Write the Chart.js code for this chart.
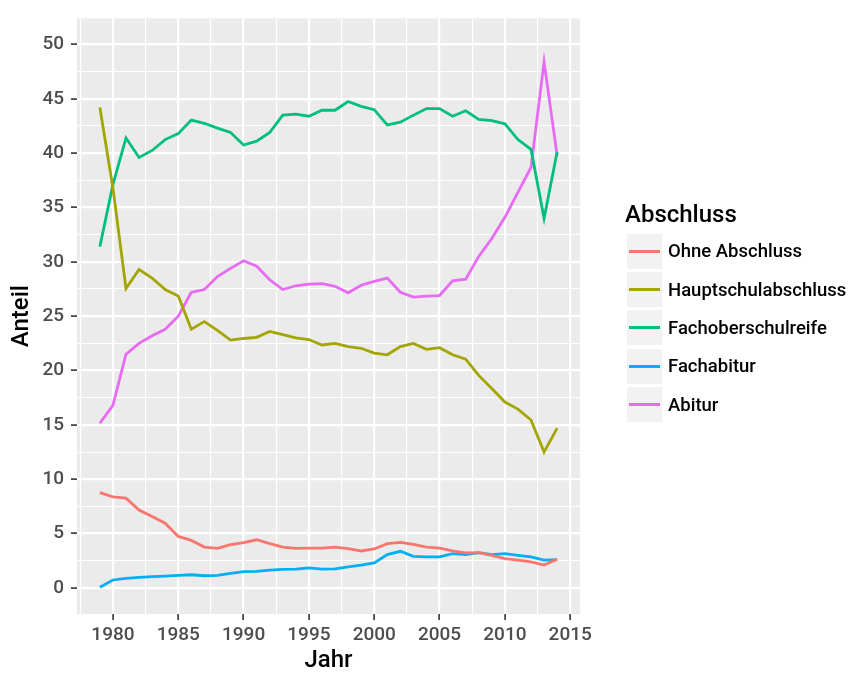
<!DOCTYPE html>
<html lang="de">
<head>
<meta charset="utf-8">
<title>Schulabschlüsse nach Jahr</title>
<script src="https://cdn.jsdelivr.net/npm/chart.js@4.4.1/dist/chart.umd.min.js"></script>
<style>
  body { margin: 0; background: #fff; font-family: Roboto, "Noto Sans", sans-serif; }
  #wrap { position: relative; width: 850px; height: 673px; }
  #legend { position: absolute; left: 625px; top: 199px; color: #000; font-weight: 500; white-space: nowrap; }
  #legend .title { font-size: 24px; line-height: 30px; margin-bottom: 3px; }
  #legend .row { display: flex; align-items: center; height: 38.4px; }
  #legend .key { width: 35px; height: 35px; background: #F2F2F2; position: relative; margin-left: 2px; }
  #legend .key span { position: absolute; left: 2px; right: 2px; top: 16px; height: 3px; }
  #legend .label { font-size: 18.5px; margin-left: 6px; }
</style>
</head>
<body>
<div id="wrap">
  <canvas id="abschlussChart" width="850" height="673"></canvas>
  <div id="legend"></div>
</div>
<script>
// Anteil der Schulabschlüsse je Jahr (in Prozent)
const years = [1979, 1980, 1981, 1982, 1983, 1984, 1985, 1986, 1987, 1988,
               1989, 1990, 1991, 1992, 1993, 1994, 1995, 1996, 1997, 1998,
               1999, 2000, 2001, 2002, 2003, 2004, 2005, 2006, 2007, 2008,
               2009, 2010, 2011, 2012, 2013, 2014];

const ohneAbschluss = [8.77, 8.38, 8.26, 7.17, 6.56, 5.95, 4.74, 4.37, 3.76, 3.64,
                       3.98, 4.16, 4.43, 4.07, 3.76, 3.64, 3.67, 3.67, 3.76, 3.61,
                       3.40, 3.58, 4.07, 4.19, 4.00, 3.76, 3.67, 3.40, 3.22, 3.25,
                       3.00, 2.70, 2.55, 2.40, 2.10, 2.64];

const hauptschulabschluss = [44.2, 36.8, 27.55, 29.3, 28.5, 27.45, 26.85, 23.8, 24.5, 23.7,
                             22.8, 22.95, 23.05, 23.6, 23.3, 23.0, 22.85, 22.35, 22.5, 22.2,
                             22.05, 21.6, 21.45, 22.2, 22.5, 21.95, 22.1, 21.45, 21.05, 19.55,
                             18.35, 17.1, 16.45, 15.45, 12.5, 14.7];

const fachoberschulreife = [31.4, 37.1, 41.4, 39.6, 40.25, 41.25, 41.8, 43.05, 42.75, 42.3,
                            41.9, 40.75, 41.1, 41.9, 43.5, 43.6, 43.4, 43.95, 43.95, 44.75,
                            44.3, 44.0, 42.6, 42.85, 43.5, 44.1, 44.1, 43.4, 43.9, 43.1,
                            43.0, 42.7, 41.25, 40.35, 34.0, 40.1];

const fachabitur = [0.06, 0.73, 0.88, 0.97, 1.03, 1.09, 1.15, 1.21, 1.12, 1.15,
                    1.34, 1.49, 1.52, 1.64, 1.70, 1.73, 1.85, 1.73, 1.76, 1.94,
                    2.10, 2.30, 3.07, 3.37, 2.91, 2.85, 2.85, 3.16, 3.07, 3.25,
                    3.07, 3.16, 3.00, 2.85, 2.55, 2.61];

const abitur = [15.15, 16.8, 21.5, 22.5, 23.2, 23.8, 25.0, 27.2, 27.45, 28.65,
                29.4, 30.1, 29.6, 28.35, 27.45, 27.8, 27.95, 28.0, 27.75, 27.15,
                27.85, 28.2, 28.5, 27.2, 26.75, 26.85, 26.9, 28.25, 28.4, 30.5,
                32.15, 34.1, 36.4, 38.7, 48.4, 39.8];

const seriesNames = ['Ohne Abschluss', 'Hauptschulabschluss', 'Fachoberschulreife', 'Fachabitur', 'Abitur'];
const seriesColors = ['#F8766D', '#A3A500', '#00BF7D', '#00B0F6', '#E76BF3'];

const yearTicks = [1980, 1985, 1990, 1995, 2000, 2005, 2010, 2015];
const shareTicks = [0, 5, 10, 15, 20, 25, 30, 35, 40, 45, 50];

// major breaks plus minor breaks halfway between them
function withMinor(major, lo, hi) {
    const step = major[1] - major[0];
    const out = [];
    for (let v = major[0] - step / 2; v <= major[major.length - 1]; v += step / 2) {
        if (v >= lo && v <= hi) out.push(v);
    }
    return out;
}

const X_MIN = 1977.25, X_MAX = 2015.75;
const Y_MIN = -2.4, Y_MAX = 52.4;

const panelBackground = {
    id: 'panelBackground',
    beforeDraw(chart) {
        const { ctx, chartArea: a } = chart;
        ctx.save();
        ctx.fillStyle = '#EBEBEB';
        ctx.fillRect(a.left, a.top, a.right - a.left, a.bottom - a.top);
        ctx.restore();
    }
};

function gridOptions(major) {
    const isMajor = (c) => c.tick && major.includes(c.tick.value);
    return {
        color: '#FFFFFF',
        lineWidth: (c) => isMajor(c) ? 2.2 : 1.1,
        tickColor: (c) => isMajor(c) ? '#333333' : 'rgba(0,0,0,0)',
        tickWidth: 1.6,
        tickLength: 6,
        drawTicks: true
    };
}

const tickFont = { family: 'Roboto', size: 19, weight: '500' };
const titleFont = { family: 'Roboto', size: 24, weight: '500', lineHeight: 1 };

const datasets = [ohneAbschluss, hauptschulabschluss, fachoberschulreife, fachabitur, abitur].map((values, i) => ({
    label: seriesNames[i],
    data: values.map((v, j) => ({ x: years[j], y: v })),
    borderColor: seriesColors[i],
    backgroundColor: seriesColors[i],
    borderWidth: 2.8,
    pointRadius: 0,
    tension: 0,
    fill: false
}));

const chart = new Chart(document.getElementById('abschlussChart').getContext('2d'), {
    type: 'line',
    data: { datasets },
    options: {
        responsive: false,
        animation: false,
        layout: { padding: { left: 0, right: 270, top: 12, bottom: 0 } },
        plugins: {
            legend: { display: false },
            tooltip: { enabled: false }
        },
        scales: {
            x: {
                type: 'linear',
                min: X_MIN,
                max: X_MAX,
                afterBuildTicks: (scale) => {
                    scale.ticks = withMinor(yearTicks, X_MIN, X_MAX).map(v => ({ value: v }));
                },
                afterFit: (scale) => { scale.height = 59; },
                grid: gridOptions(yearTicks),
                border: { display: false },
                ticks: {
                    autoSkip: false,
                    maxRotation: 0,
                    padding: 4,
                    color: '#4D4D4D',
                    font: tickFont,
                    callback: (v) => yearTicks.includes(v) ? String(v) : ''
                },
                title: {
                    display: true,
                    text: 'Jahr',
                    color: '#000',
                    font: titleFont,
                    padding: { top: 0, bottom: 0 }
                }
            },
            y: {
                type: 'linear',
                min: Y_MIN,
                max: Y_MAX,
                afterBuildTicks: (scale) => {
                    scale.ticks = withMinor(shareTicks, Y_MIN, Y_MAX).map(v => ({ value: v }));
                },
                afterFit: (scale) => { scale.width = 77; },
                grid: gridOptions(shareTicks),
                border: { display: false },
                ticks: {
                    autoSkip: false,
                    padding: 7,
                    color: '#4D4D4D',
                    font: tickFont,
                    callback: (v) => shareTicks.includes(v) ? String(v) : ''
                },
                title: {
                    display: true,
                    text: 'Anteil',
                    color: '#000',
                    font: titleFont,
                    padding: { top: 10, bottom: 0 }
                }
            }
        }
    },
    plugins: [panelBackground]
});

// legend built from the chart's datasets
function buildLegend(chart) {
    const box = document.getElementById('legend');
    let html = '<div class="title">Abschluss</div>';
    chart.data.datasets.forEach(ds => {
        html += '<div class="row"><div class="key"><span style="background:' + ds.borderColor +
                '"></span></div><div class="label">' + ds.label + '</div></div>';
    });
    box.innerHTML = html;
}
buildLegend(chart);
</script>
</body>
</html>
